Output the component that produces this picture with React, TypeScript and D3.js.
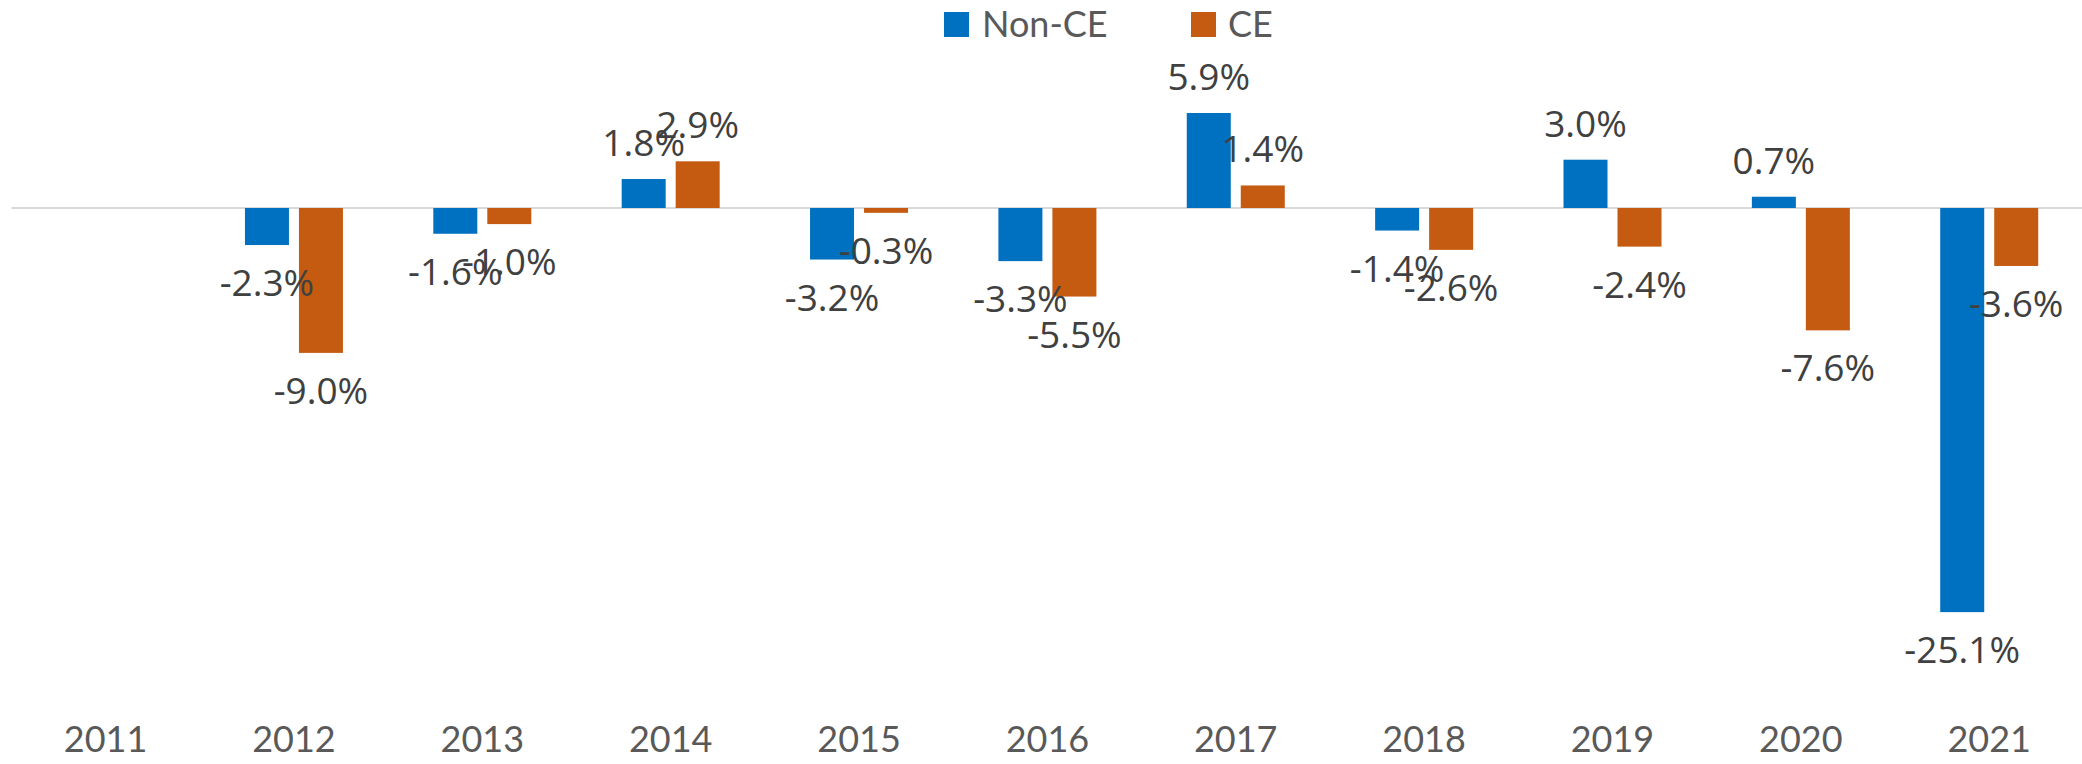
import React from "react";
import * as d3 from "d3";

const years = ["2011", "2012", "2013", "2014", "2015", "2016", "2017", "2018", "2019", "2020", "2021"];
const nonCE: (number | null)[] = [null, -2.3, -1.6, 1.8, -3.2, -3.3, 5.9, -1.4, 3.0, 0.7, -25.1];
const ce: (number | null)[] = [null, -9.0, -1.0, 2.9, -0.3, -5.5, 1.4, -2.6, -2.4, -7.6, -3.6];
const seriesNames = ["Non-CE", "CE"];
const seriesColors = ["#0070C0", "#C55A11"];

const W = 2082;
const H = 764;

export default function App() {
  const x = d3.scaleBand<string>().domain(years).range([11.4, 2083.4]).padding(0);
  const y = d3.scaleLinear().domain([-30, 10]).range([691, 47]);
  const series = [nonCE, ce];
  const barW = 44;
  const offsets = [-49, 5];
  const labelFont = "'Open Sans', sans-serif";
  const axisFont = "Lato, sans-serif";

  const bars: React.ReactNode[] = [];
  const labels: React.ReactNode[] = [];
  series.forEach((vals, si) => {
    vals.forEach((v, i) => {
      if (v === null) return;
      const cx = (x(years[i]) as number) + x.bandwidth() / 2;
      const x0 = cx + offsets[si];
      const y0 = y(0);
      const yv = y(v);
      bars.push(
        <rect
          key={`b${si}-${i}`}
          x={x0}
          y={Math.min(y0, yv)}
          width={barW}
          height={Math.abs(yv - y0)}
          fill={seriesColors[si]}
        />
      );
      const ly = v >= 0 ? yv - 23 : yv + 51;
      labels.push(
        <text
          key={`l${si}-${i}`}
          x={x0 + barW / 2}
          y={ly}
          textAnchor="middle"
          fontFamily={labelFont}
          fontSize={37}
          fill="#404040"
        >
          {v.toFixed(1) + "%"}
        </text>
      );
    });
  });

  const legendItems = [
    { sx: 944, tx: 982 },
    { sx: 1191, tx: 1228 },
  ];

  return (
    <svg
      width={W}
      height={H}
      style={{ position: "absolute", left: 0, top: 0, background: "#fff" }}
    >
      <rect x={0} y={0} width={W} height={H} fill="#ffffff" />
      <line x1={11.4} x2={2082} y1={y(0)} y2={y(0)} stroke="#D9D9D9" strokeWidth={2} />
      {bars}
      {labels}
      {years.map((yr) => (
        <text
          key={yr}
          x={(x(yr) as number) + x.bandwidth() / 2}
          y={752}
          textAnchor="middle"
          fontFamily={axisFont}
          fontSize={36}
          fill="#595959"
        >
          {yr}
        </text>
      ))}
      {seriesNames.map((name, i) => (
        <g key={name}>
          <rect x={legendItems[i].sx} y={12} width={25} height={25} fill={seriesColors[i]} />
          <text
            x={legendItems[i].tx}
            y={37}
            fontFamily={axisFont}
            fontSize={36}
            fill="#595959"
          >
            {name}
          </text>
        </g>
      ))}
    </svg>
  );
}
